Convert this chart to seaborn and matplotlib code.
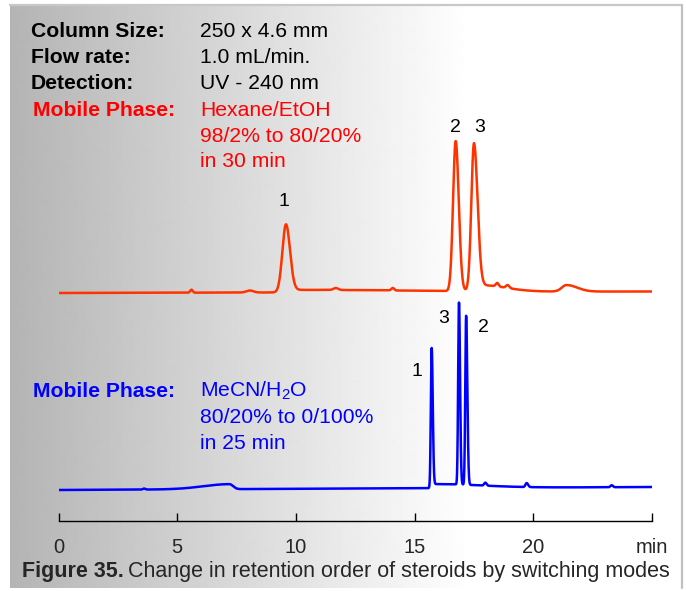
import numpy as np
import pandas as pd
import matplotlib
matplotlib.use("Agg")
import matplotlib.pyplot as plt
import seaborn as sns
from matplotlib.lines import Line2D

# ---------------- data ----------------
# Upper trace: normal phase (Hexane/EtOH); peaks as bi-Gaussians
red_times   = [5.60, 8.06, 9.58, 9.70, 11.68, 14.08, 16.73, 17.50, 17.85, 18.48, 18.92, 21.40]
red_heights = [3.0, 2.0, 66.0, 2.5, 2.0, 2.5, 150.0, 145.0, 6.0, 3.5, 3.0, 6.5]
red_sig_l   = [0.05, 0.15, 0.15, 0.20, 0.10, 0.06, 0.11, 0.11, 0.30, 0.06, 0.07, 0.20]
red_sig_r   = [0.05, 0.15, 0.17, 5.00, 0.10, 0.06, 0.13, 0.15, 1.00, 0.06, 0.07, 0.45]
red_baseline = [228.0, 229.5]      # start / end level

# Lower trace: reversed phase (MeCN/H2O)
blue_times   = [3.60, 7.20, 15.72, 15.80, 16.87, 17.17, 17.98, 19.72, 23.30]
blue_heights = [1.0, 5.0, 140.0, 4.0, 182.0, 169.0, 3.0, 4.0, 2.0]
blue_sig_l   = [0.05, 1.10, 0.035, 0.03, 0.035, 0.035, 0.05, 0.05, 0.05]
blue_sig_r   = [0.05, 0.15, 0.045, 2.00, 0.045, 0.05, 0.05, 0.06, 0.05]
blue_baseline = [31.0, 34.0]

tick_values = [0, 5, 10, 15, 20, 25]
tick_labels = ["0", "5", "10", "15", "20", "min"]

red_peak_labels = ["1", "2", "3"]
red_label_t = [9.50, 16.73, 17.72]
red_label_y = [315.0, 389.0, 389.0]
blue_peak_labels = ["1", "3", "2"]
blue_label_t = [15.10, 16.24, 17.92]
blue_label_y = [145.0, 198.0, 189.0]

# ---------------- build traces ----------------
t = np.linspace(0, 25, 12001)

def trace(times, heights, sl, sr, base):
    y = np.interp(t, [0, 25], base)
    for c, h, a, b in zip(times, heights, sl, sr):
        s = np.where(t < c, a, b)
        y = y + h * np.exp(-0.5 * ((t - c) / s) ** 2)
    return y

df = pd.concat([
    pd.DataFrame({"time": t, "signal": trace(red_times, red_heights, red_sig_l, red_sig_r, red_baseline), "mode": "NP"}),
    pd.DataFrame({"time": t, "signal": trace(blue_times, blue_heights, blue_sig_l, blue_sig_r, blue_baseline), "mode": "RP"}),
])

# ---------------- figure ----------------
sns.set_theme(style="white")
plt.rcParams["font.family"] = ["Liberation Sans", "DejaVu Sans"]
plt.rcParams["mathtext.fontset"] = "custom"
plt.rcParams["mathtext.rm"] = "Liberation Sans"
plt.rcParams["mathtext.default"] = "regular"

W, H = 686, 591
fig = plt.figure(figsize=(W / 100, H / 100), dpi=100)
fig.patch.set_facecolor("white")

def fx(px):
    return px / W

def fy(py):
    return 1 - py / H

# gradient panel
px0, px1, py0, py1 = 10, 682, 5, 588
bg = fig.add_axes([fx(px0), fy(py1), fx(px1 - px0), (py1 - py0) / H], zorder=-5)
xs = np.arange(px0, px1)
vals = np.clip(180 + (xs - px0) * (75 / 460), 0, 255)
bg.imshow(np.tile(vals, (2, 1)), cmap="gray", vmin=0, vmax=255, aspect="auto",
          extent=[0, 1, 0, 1], interpolation="bilinear")
bg.set_xlim(0, 1); bg.set_ylim(0, 1)
bg.axis("off")
fig.add_artist(Line2D([fx(px0), fx(px1)], [fy(py0), fy(py0)], color="#c8c8c8", lw=1.6,
                      transform=fig.transFigure))
fig.add_artist(Line2D([fx(px1), fx(px1)], [fy(py0), fy(py1)], color="#c0c0c0", lw=1.6,
                      transform=fig.transFigure))

# main axes
ax_left, ax_right, ax_bottom, ax_top = 58.5, 652, 521, 100
ax = fig.add_axes([fx(ax_left), fy(ax_bottom), fx(ax_right - ax_left), (ax_bottom - ax_top) / H])
ax.patch.set_alpha(0)
sns.lineplot(data=df, x="time", y="signal", hue="mode",
             palette={"NP": "#ff3300", "RP": "#0000ff"}, estimator=None, sort=False,
             linewidth=1.8, legend=False, ax=ax)
ax.set_xlim(0, 25)
ax.set_ylim(0, ax_bottom - ax_top)
for s in ["left", "right", "top"]:
    ax.spines[s].set_visible(False)
ax.spines["bottom"].set_color("black")
ax.spines["bottom"].set_linewidth(1.0)
ax.set_yticks([])
ax.set_xticks(tick_values)
ax.set_xticklabels(tick_labels, fontsize=14.5)
ax.tick_params(axis="x", direction="in", length=6, width=1.0, color="black", pad=12, bottom=True)
ax.set_xlabel(""); ax.set_ylabel("")

for lab, tt, yy in zip(red_peak_labels, red_label_t, red_label_y):
    ax.text(tt, yy, lab, ha="center", va="baseline", fontsize=14, color="black")
for lab, tt, yy in zip(blue_peak_labels, blue_label_t, blue_label_y):
    ax.text(tt, yy, lab, ha="center", va="baseline", fontsize=14, color="black")

# header texts
fs = 15.2
rows = [("Column Size:", "250 x 4.6 mm", 37.3, "black"),
        ("Flow rate:", "1.0 mL/min.", 63.3, "black"),
        ("Detection:", "UV - 240 nm", 89.3, "black")]
for lab, val, yb, col in rows:
    fig.text(fx(31), fy(yb), lab, fontsize=fs, fontweight="bold", color=col, va="baseline")
    fig.text(fx(200), fy(yb), val, fontsize=fs, color=col, va="baseline")

fig.text(fx(33), fy(116), "Mobile Phase:", fontsize=fs, fontweight="bold", color="#ff0000", va="baseline")
for val, yb in [("Hexane/EtOH", 116), ("98/2% to 80/20%", 141.7), ("in 30 min", 166.7)]:
    fig.text(fx(200), fy(yb), val, fontsize=fs, color="#ff0000", va="baseline")

fig.text(fx(33), fy(396.7), "Mobile Phase:", fontsize=fs, fontweight="bold", color="#0000ff", va="baseline")
for val, yb in [("MeCN/H$_2$O", 396.7), ("80/20% to 0/100%", 423), ("in 25 min", 449)]:
    fig.text(fx(200), fy(yb), val, fontsize=fs, color="#0000ff", va="baseline")

# caption
t1 = fig.text(fx(22), fy(577), "Figure 35.", fontsize=15.5, fontweight="bold", va="baseline")
fig.canvas.draw()
bb = t1.get_window_extent(renderer=fig.canvas.get_renderer())
fig.text(bb.x1 / W + fx(4), fy(577), "Change in retention order of steroids by switching modes",
         fontsize=15.5, va="baseline")

fig.savefig("out.png", dpi=100)
